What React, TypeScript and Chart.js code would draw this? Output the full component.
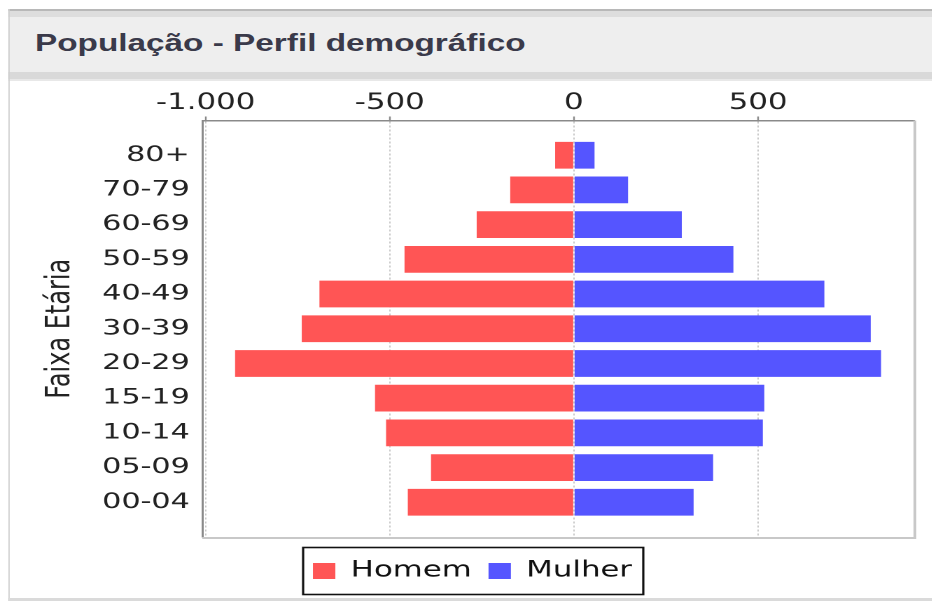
import React, { useEffect, useRef } from 'react';
import { Chart, registerables } from 'chart.js';

Chart.register(...registerables);

// ---------- data ----------
const chartTitle = 'População - Perfil demográfico';
const yAxisTitle = 'Faixa Etária';
const ageGroups = ['80+', '70-79', '60-69', '50-59', '40-49', '30-39', '20-29', '15-19', '10-14', '05-09', '00-04'];
const homem = [-51, -173, -264, -460, -691, -739, -920, -540, -510, -388, -451];
const mulher = [56, 147, 293, 433, 680, 806, 834, 517, 513, 378, 325];
const xTicks = [-1000, -500, 0, 500];
const seriesNames = ['Homem', 'Mulher'];
const seriesColors = ['#ff5555', '#5555ff'];

// horizontal stretch of the whole picture
const S = 1.4;
const FONT = "'DejaVu Sans', Verdana, sans-serif";

function fmt(v: number): string {
  const s = Math.abs(v).toString().replace(/\B(?=(\d{3})+(?!\d))/g, '.');
  return (v < 0 ? '-' : '') + s;
}

const framePlugin = {
  id: 'frame',
  afterLayout(chart: any) {
    const l = chart.legend;
    if (l) {
      l.left += 7.5;
      l.right += 7.5;
    }
  },
  afterDraw(chart: any) {
    const { ctx, chartArea: a } = chart;
    ctx.save();
    ctx.strokeStyle = '#c8c8c8';
    ctx.lineWidth = 2;
    ctx.beginPath();
    ctx.moveTo(a.right + 0.5, a.top);
    ctx.lineTo(a.right + 0.5, a.bottom + 1);
    ctx.lineTo(a.left, a.bottom + 1);
    ctx.stroke();
    const hb = chart.legend && chart.legend.legendHitBoxes;
    if (hb && hb.length) {
      const first = hb[0];
      const last = hb[hb.length - 1];
      const left = first.left - 7;
      const right = last.left + last.width + 8;
      const cy = first.top + first.height / 2;
      ctx.strokeStyle = '#111';
      ctx.lineWidth = 1.6;
      ctx.strokeRect(left, cy - 23.5, right - left, 47);
    }
    ctx.restore();
  },
};

function PyramidChart() {
  const ref = useRef<HTMLCanvasElement | null>(null);
  useEffect(() => {
    if (!ref.current) return;
    const series = [homem, mulher];
    const chart = new Chart(ref.current, {
      type: 'bar',
      data: {
        datasets: series.map((vals, k) => ({
          label: seriesNames[k],
          data: vals.map((v, i) => ({ x: v, y: i })),
          backgroundColor: seriesColors[k],
          borderWidth: 0,
          grouped: false,
          barPercentage: 0.77,
          categoryPercentage: 1,
        })),
      },
      options: {
        indexAxis: 'y',
        animation: false,
        responsive: false,
        devicePixelRatio: 2,
        layout: { padding: { top: 0, left: 0, right: 12, bottom: 5 } },
        scales: {
          x: {
            type: 'linear',
            position: 'top',
            min: -1009,
            max: 924,
            afterBuildTicks: (s: any) => {
              s.ticks = xTicks.map((v) => ({ value: v }));
            },
            afterFit: (s: any) => {
              s.height = 39.5;
            },
            ticks: {
              callback: (v: any) => fmt(Number(v)),
              font: { family: FONT, size: 22 },
              color: '#222',
              padding: 0,
              maxRotation: 0,
              autoSkip: false,
            },
            grid: {
              color: '#c8c8c8',
              lineWidth: 1,
              tickLength: 4,
              tickColor: '#888',
              tickWidth: 1.2,
              tickBorderDash: [],
            },
            border: { display: true, color: '#8a8a8a', width: 1.5, dash: [2, 2] },
          },
          y: {
            type: 'linear',
            reverse: true,
            offset: false,
            min: -1,
            max: 11,
            afterBuildTicks: (s: any) => {
              s.ticks = ageGroups.map((_, i) => ({ value: i }));
            },
            afterFit: (s: any) => {
              s.width = 137.5;
            },
            ticks: {
              callback: (v: any) => ageGroups[Number(v)],
              font: { family: FONT, size: 21.5 },
              color: '#222',
              padding: 9,
              autoSkip: false,
            },
            grid: { display: false, drawTicks: false, offset: false },
            border: { display: true, color: '#8a8a8a', width: 1.5 },
            title: {
              display: true,
              text: yAxisTitle,
              font: { family: FONT, size: 24 },
              color: '#222',
              padding: { top: 22, bottom: 0 },
            },
          },
        },
        plugins: {
          legend: {
            position: 'bottom',
            title: { display: true, text: '', font: { size: 1, lineHeight: 1 }, padding: { top: 10, bottom: 0 } },
            labels: {
              font: { family: FONT, size: 22 },
              color: '#111',
              boxWidth: 16,
              boxHeight: 16,
              padding: 12,
            },
          },
          tooltip: { enabled: false },
        },
      } as any,
      plugins: [framePlugin],
    });
    return () => chart.destroy();
  }, []);
  return (
    <canvas
      ref={ref}
      width={658}
      height={516}
      style={{ position: 'absolute', left: 10 / S, top: 81, width: 658, height: 516 }}
    />
  );
}

export default function App() {
  const abs = (o: any) => ({ position: 'absolute' as const, ...o });
  return (
    <div
      style={{
        position: 'fixed',
        left: 0,
        top: 0,
        width: 932 / S,
        height: 601,
        transform: `scaleX(${S})`,
        transformOrigin: '0 0',
        overflow: 'hidden',
        background: '#fff',
      }}
    >
      <div style={abs({ left: 8 / S, top: 9, right: 0, height: 1.5, background: '#b8b8b8' })} />
      <div style={abs({ left: 8 / S, top: 10.5, right: 0, height: 6.5, background: '#dddddd' })} />
      <div style={abs({ left: 8 / S, top: 17, right: 0, height: 55, background: '#eeeeee' })} />
      <div style={abs({ left: 8 / S, top: 72, right: 0, height: 7, background: '#d9d9d9' })} />
      <div style={abs({ left: 8 / S, top: 79, right: 0, height: 1.5, background: '#e8e8e8' })} />
      <div style={abs({ left: 8 / S, top: 9, width: 2 / S, bottom: 0, background: '#cfcfcf' })} />
      <div style={abs({ left: 8 / S, top: 597.5, right: 0, bottom: 0, background: '#dadada' })} />
      <div
        style={abs({
          left: 35 / S,
          top: 31,
          fontFamily: "'Liberation Sans', Arial, sans-serif",
          fontWeight: 'bold',
          fontSize: 23.8,
          lineHeight: '24px',
          color: '#3a3a4a',
          whiteSpace: 'nowrap',
        })}
      >
        {chartTitle}
      </div>
      <PyramidChart />
    </div>
  );
}
